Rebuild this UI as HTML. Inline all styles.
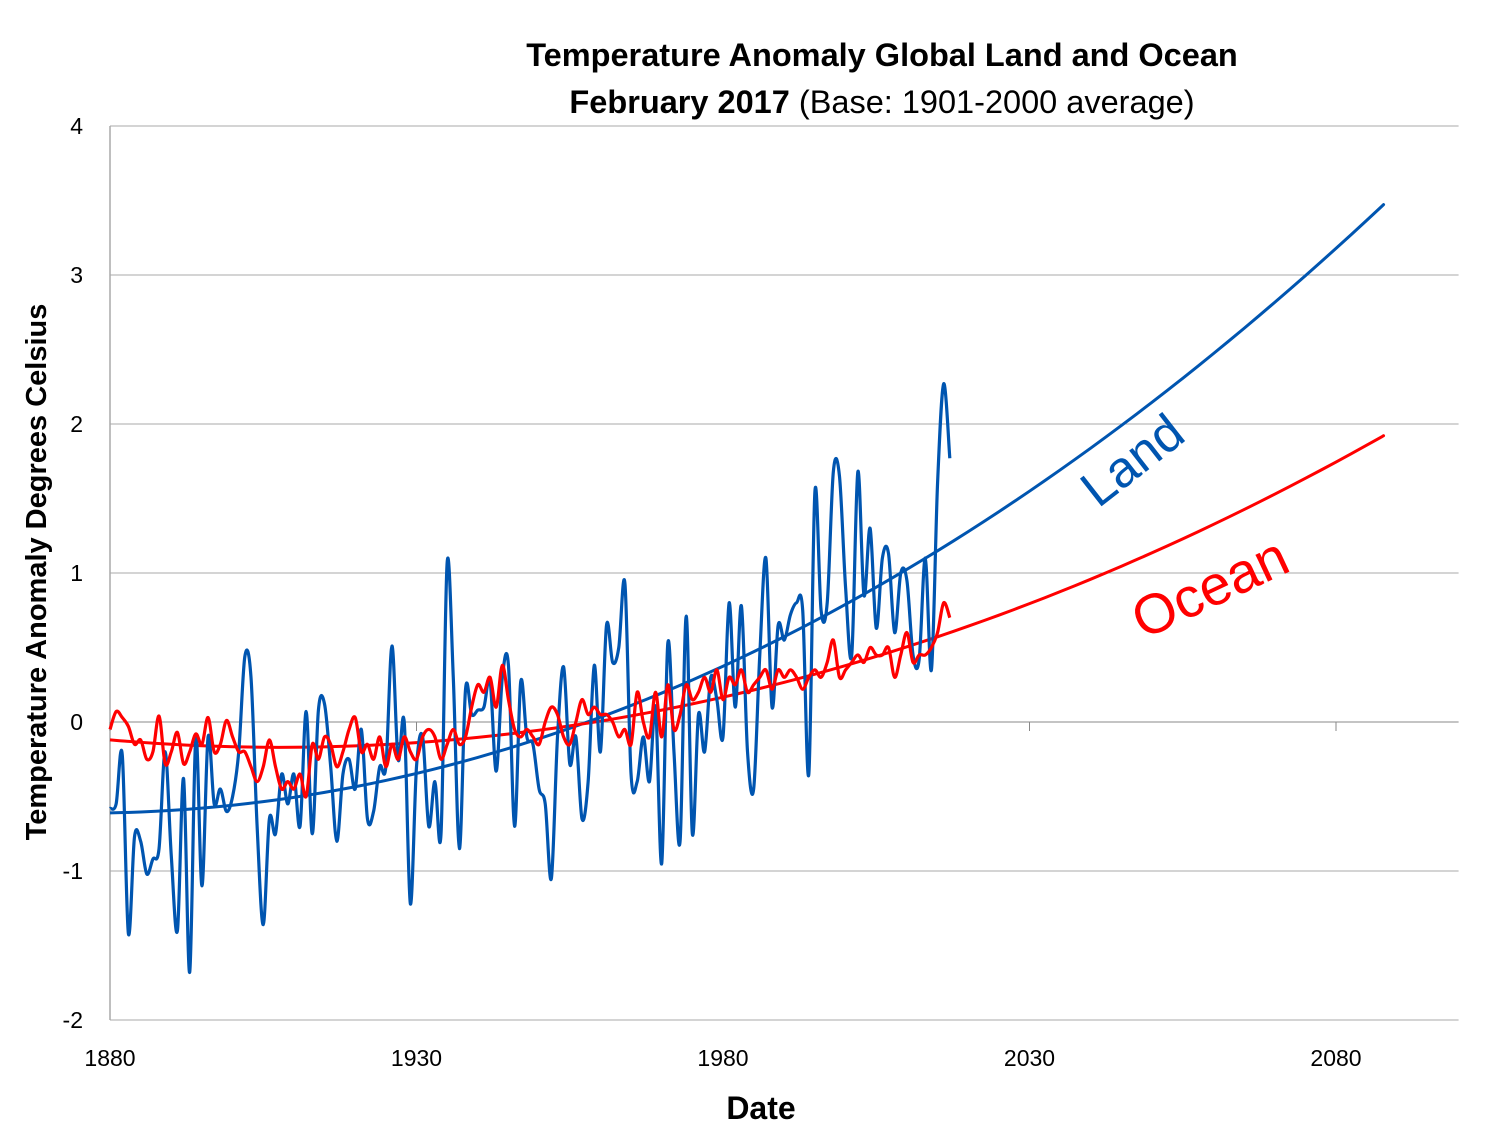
<!DOCTYPE html>
<html><head><meta charset="utf-8"><style>
body{margin:0;background:#fff}
svg text{font-family:"Liberation Sans",sans-serif}
</style></head><body>
<svg id="chart" width="1500" height="1139" xmlns="http://www.w3.org/2000/svg">
<rect width="1500" height="1139" fill="#fff"/>
<g id="grid"></g>
<g id="ticks"></g>
<g id="series"></g>
<text x="882" y="66" text-anchor="middle" font-size="32.5" font-weight="bold">Temperature Anomaly Global Land and Ocean</text>
<text x="882" y="113" text-anchor="middle" font-size="32.5"><tspan font-weight="bold">February 2017</tspan> (Base: 1901-2000 average)</text>
<text transform="translate(46,572) rotate(-90)" text-anchor="middle" font-size="29" font-weight="bold">Temperature Anomaly Degrees Celsius</text>
<text x="761" y="1119" text-anchor="middle" font-size="32" font-weight="bold">Date</text>
<text transform="translate(1143,474) rotate(-38)" text-anchor="middle" font-size="51" fill="#0055b0">Land</text>
<text transform="translate(1218,605) rotate(-25)" text-anchor="middle" font-size="56" fill="#ff0000">Ocean</text>
</svg>
<script>
const years=[];for(let y=1880;y<=2017;y++)years.push(y);
const landValues=[-0.58,-0.55,-0.22,-1.42,-0.77,-0.8,-1.02,-0.92,-0.85,-0.2,-0.9,-1.4,-0.38,-1.68,-0.1,-1.1,-0.1,-0.55,-0.45,-0.6,-0.5,-0.2,0.44,0.3,-0.7,-1.36,-0.65,-0.75,-0.35,-0.55,-0.35,-0.7,0.07,-0.75,0.08,0.12,-0.3,-0.8,-0.35,-0.25,-0.45,-0.05,-0.65,-0.6,-0.3,-0.3,0.51,-0.25,0.0,-1.22,-0.3,-0.1,-0.7,-0.4,-0.75,1.07,0.3,-0.85,0.22,0.05,0.08,0.1,0.28,-0.33,0.3,0.38,-0.7,0.27,-0.1,-0.15,-0.45,-0.55,-1.05,-0.1,0.37,-0.28,-0.1,-0.65,-0.4,0.38,-0.2,0.65,0.4,0.5,0.93,-0.35,-0.4,-0.1,-0.4,0.1,-0.95,0.53,-0.2,-0.8,0.71,-0.75,0.05,-0.2,0.3,0.15,-0.1,0.8,0.1,0.78,-0.2,-0.45,0.45,1.1,0.1,0.65,0.55,0.72,0.8,0.75,-0.35,1.55,0.75,0.8,1.68,1.65,0.9,0.45,1.68,0.85,1.3,0.63,1.1,1.13,0.6,1.0,0.95,0.45,0.42,1.1,0.35,1.6,2.27,1.77];
const oceanValues=[-0.05,0.07,0.03,-0.03,-0.15,-0.12,-0.25,-0.2,0.04,-0.28,-0.2,-0.07,-0.28,-0.2,-0.08,-0.15,0.03,-0.2,-0.15,0.01,-0.1,-0.2,-0.2,-0.3,-0.4,-0.3,-0.12,-0.3,-0.45,-0.4,-0.45,-0.35,-0.5,-0.15,-0.25,-0.1,-0.15,-0.3,-0.2,-0.05,0.03,-0.2,-0.15,-0.25,-0.1,-0.3,-0.15,-0.25,-0.1,-0.2,-0.25,-0.1,-0.05,-0.1,-0.25,-0.15,-0.05,-0.15,-0.1,0.1,0.25,0.2,0.3,0.1,0.38,0.15,-0.05,-0.1,-0.05,-0.1,-0.15,0.0,0.1,0.05,-0.1,-0.15,0.0,0.15,0.05,0.1,0.05,0.05,0.0,-0.1,-0.05,-0.15,0.2,0.0,-0.1,0.2,-0.1,0.25,-0.05,0.05,0.25,0.15,0.2,0.3,0.2,0.35,0.15,0.3,0.25,0.35,0.2,0.25,0.3,0.35,0.22,0.35,0.3,0.35,0.3,0.22,0.3,0.35,0.3,0.4,0.55,0.3,0.35,0.4,0.45,0.4,0.5,0.45,0.45,0.5,0.3,0.45,0.6,0.4,0.45,0.45,0.5,0.6,0.8,0.7];
const landTrend=[-0.61,0.000747,9.098e-5];
const oceanTrend=[-0.12,-0.003592,6.458e-5];
const trendEndYear=2087.7;
const yTicks=[-2,-1,0,1,2,3,4];
const xTicks=[1880,1930,1980,2030,2080];
const X0=110,X1=1458.6,Y0=1020,Y1=126;
const xs=y=>X0+(y-1880)*(X1-X0)/220;
const ys=v=>Y0-(v+2)*(Y0-Y1)/6;
const NS='http://www.w3.org/2000/svg';
function mk(tag,attrs,parent){const e=document.createElementNS(NS,tag);for(const k in attrs)e.setAttribute(k,attrs[k]);parent.appendChild(e);return e;}
const grid=document.getElementById('grid'),ticks=document.getElementById('ticks'),series=document.getElementById('series');
yTicks.forEach(v=>{
 const l=mk('line',{x1:X0,x2:X1,y1:ys(v),y2:ys(v),stroke:v===0?'#888':'#aaa','stroke-width':1},grid);
 
 
 const t=mk('text',{x:X0-27,y:ys(v)+8,'text-anchor':'end','font-size':23},ticks);t.textContent=v;
 
 
});
const ax=mk('line',{x1:X0,x2:X0,y1:Y1,y2:Y0,stroke:'#aaa','stroke-width':1.5},grid);


xTicks.forEach(y=>{
 const tk=mk('line',{x1:xs(y),x2:xs(y),y1:ys(0),y2:ys(0)+9,stroke:'#888'},grid);
 
 
 const t=mk('text',{x:xs(y),y:1066,'text-anchor':'middle','font-size':23},ticks);t.textContent=y;
 
 
});
function smooth(pts){let d='M'+pts[0][0]+','+pts[0][1];for(let i=0;i<pts.length-1;i++){const p0=pts[Math.max(0,i-1)],p1=pts[i],p2=pts[i+1],p3=pts[Math.min(pts.length-1,i+2)];const c1=[p1[0]+(p2[0]-p0[0])/6,p1[1]+(p2[1]-p0[1])/6],c2=[p2[0]-(p3[0]-p1[0])/6,p2[1]-(p3[1]-p1[1])/6];d+=`C${c1[0]},${c1[1]} ${c2[0]},${c2[1]} ${p2[0]},${p2[1]}`;}return d;}
function trendPts(c){const p=[];for(let y=1880;y<trendEndYear;y+=2.5){const t=y-1880;p.push([xs(y),ys(c[0]+c[1]*t+c[2]*t*t)]);}const te=trendEndYear-1880;p.push([xs(trendEndYear),ys(c[0]+c[1]*te+c[2]*te*te)]);return p;}
const lt=mk('path',{d:smooth(trendPts(landTrend)),fill:'none',stroke:'#0055b0','stroke-width':3},series);


const ot=mk('path',{d:smooth(trendPts(oceanTrend)),fill:'none',stroke:'#ff0000','stroke-width':3},series);


const lp=mk('path',{d:smooth(years.map((y,i)=>[xs(y),ys(landValues[i])])),fill:'none',stroke:'#0055b0','stroke-width':3.2,'stroke-linejoin':'round'},series);


const op=mk('path',{d:smooth(years.map((y,i)=>[xs(y),ys(oceanValues[i])])),fill:'none',stroke:'#ff0000','stroke-width':3.2,'stroke-linejoin':'round'},series);


</script>
</body></html>
